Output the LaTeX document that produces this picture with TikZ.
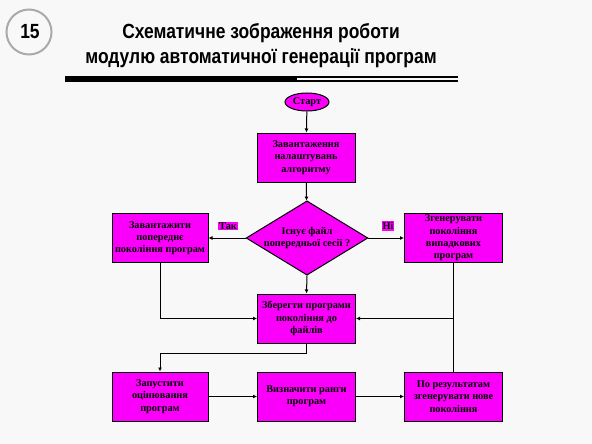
\documentclass[tikz,border=0pt]{standalone}
\usepackage{fontspec}
\setmainfont{Liberation Serif}
\newfontfamily\titlefont[FakeStretch=0.85]{Liberation Sans}
\usetikzlibrary{arrows.meta,shapes.geometric,positioning}
\definecolor{boxmagenta}{RGB}{250,0,250}
\definecolor{slidebg}{RGB}{248,248,248}
\definecolor{ringgray}{RGB}{170,170,170}

\tikzset{
  stepbox/.style={draw=black,line width=1pt,fill=boxmagenta,inner sep=0pt,
    minimum width=98pt,minimum height=49pt,align=center,
    font=\fontsize{10.3}{12.3}\selectfont\bfseries},
  startbox/.style={ellipse,draw=black,line width=1pt,fill=boxmagenta,inner sep=0pt,
    minimum width=44pt,minimum height=18pt,font=\fontsize{10.3}{11}\selectfont\bfseries},
  askbox/.style={diamond,draw=black,line width=1pt,fill=boxmagenta,inner sep=0pt,
    minimum width=120pt,minimum height=73pt,align=center,aspect=1.64,
    font=\fontsize{10.3}{12.3}\selectfont\bfseries},
  answer/.style={fill=boxmagenta,inner sep=1pt,font=\fontsize{10.3}{11}\selectfont\bfseries},
  flow/.style={line width=1pt,-{Latex[length=4pt,width=4pt]}},
  link/.style={line width=1pt}
}

\begin{document}
\begin{tikzpicture}[x=1pt,y=-1pt]

%% -- slide background and heading ------------------------------------------
\fill[slidebg] (0,0) rectangle (592,444);
\useasboundingbox (0,0) rectangle (592,444);
\draw[ringgray,line width=2pt] (29,32) circle (22.5);
\node (num) at (30,32) {\titlefont\fontsize{20.5}{20.5}\selectfont\bfseries 15};
\node[align=center,font=\titlefont\fontsize{20.5}{25}\selectfont\bfseries] (title) at (261,46)
  {Схематичне зображення роботи\\модулю автоматичної генерації програм};
\fill[black] (65,76.5) rectangle (297,82);
\fill[black] (297,76.5) rectangle (458,78);
\fill[black] (297,80.5) rectangle (458,82);

%% -- flowchart nodes ---------------------------------------------------------
\node[startbox] (start) at (307,102) {Старт};
\node[stepbox] (load) at (306,157.5) {Завантаження\\налаштувань\\алгоритму};
\node[askbox] (exists) at (307,238) {Існує файл\\попередньої сесії ?};
\node[stepbox,minimum width=96pt] (prev) at (160,238)
  {Завантажити\\попереднє\\покоління програм};
\node[stepbox] (rand) at (453.5,238)
  {Згенерувати\\покоління\\випадкових\\програм};
\node[stepbox] (save) at (306.5,318.5) {Зберегти програми\\покоління до\\файлів};
\node[stepbox,minimum width=96pt] (eval) at (160,396.5) {Запустити\\оцінювання\\програм};
\node[stepbox] (rank) at (306.5,396.5) {Визначити ранги\\програм};
\node[stepbox] (next) at (453.5,396.5) {По результатам\\згенерувати нове\\покоління};

%% -- answers -----------------------------------------------------------------
\node[answer] (yes) at (228,226) {Так};
\node[answer] (no) at (388,226) {Ні};

%% -- connectors --------------------------------------------------------------
\draw[flow] (start) -- (load);
\draw[flow] (load) -- (exists);
\draw[flow] (exists.west) -- (prev.east);
\draw[flow] (exists.east) -- (rand.west);
\draw[flow] (exists.south) -- (save.north);
\draw[flow] (prev.south) |- (save.west);
\draw[flow] (rand.south) |- (save.east);
\draw[link] (next.north) -- (next.north |- save.east);
\draw[flow] (save.south) -- ++(0,10) -| (eval.north);
\draw[flow] (eval) -- (rank);
\draw[flow] (rank) -- (next);

\end{tikzpicture}
\end{document}
